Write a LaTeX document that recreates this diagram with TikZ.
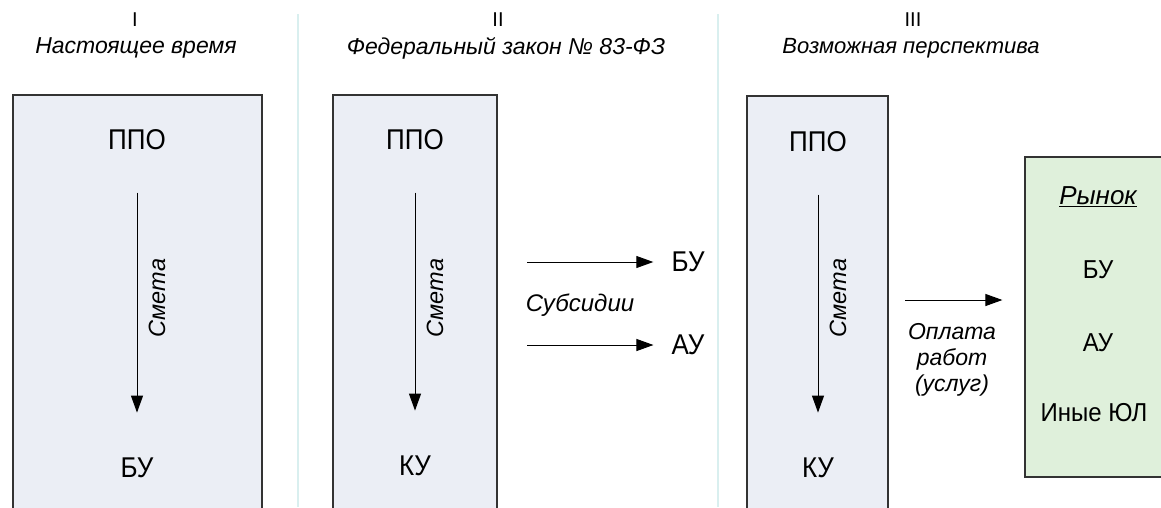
\documentclass[tikz,border=0pt]{standalone}
\usepackage{fontspec}
\setmainfont{Liberation Sans}
\usepackage{tikz}
\usetikzlibrary{positioning,
				arrows.meta,
				calc}
\definecolor{boxfill}{HTML}{EBEEF5}
\definecolor{marketfill}{HTML}{DFF0DB}
\definecolor{sepline}{HTML}{D9EFEF}
\definecolor{edge}{HTML}{333333}

\tikzset{
	column/.style={draw=edge, line width=1.2pt, fill=boxfill},
	big/.style={font=\fontsize{26}{30}\selectfont, inner sep=2pt, yscale=1.1},
	heading/.style={font=\itshape\fontsize{23}{26}\selectfont},
	numeral/.style={font=\fontsize{20}{24}\selectfont},
	flow/.style={line width=1pt, -{Triangle[length=17pt,width=12pt]}},
	smeta/.style={rotate=90, font=\itshape\fontsize{23.5}{27}\selectfont},
	down/.style={flow, shorten <=40pt, shorten >=43pt},
	inmarket/.style={font=\fontsize{24}{28}\selectfont, yscale=1.08}
}

\begin{document}
\begin{tikzpicture}[x=1pt,y=-1pt]
	\useasboundingbox (0,0) rectangle (1161,507);
	\clip (0,0) rectangle (1161,507);
	% separators between the periods
	\draw[sepline, line width=1.5pt] (298,14) -- (298,507);
	\draw[sepline, line width=1.5pt] (718,14) -- (718,507);

	% headings
	\node[numeral] (numA) at (135,20) {I};
	\node[heading] (headA) at (136,48) {Настоящее время};
	\node[numeral] (numB) at (498,20) {II};
	\node[heading] (headB) at (506,48) {Федеральный закон № 83-ФЗ};
	\node[numeral] (numC) at (913,20) {III};
	\node[heading, font=\itshape\fontsize{22}{26}\selectfont] (headC) at (911,48) {Возможная перспектива};

	% columns
	\draw[column] (13,95) rectangle (262,520);
	\draw[column] (333,95) rectangle (497,520);
	\draw[column] (747,96) rectangle (888,520);

	% I
	\node[big] (ppoA) at (137,140) {ППО};
	\node[big] (buA) at (137,468) {БУ};
	\draw[down] (ppoA) -- (buA);
	\node[smeta] (smetaA) at (157,298) {Смета};

	% II
	\node[big] (ppoB) at (415,140) {ППО};
	\node[big] (kuB) at (415,466) {КУ};
	\draw[down] (ppoB) -- (kuB);
	\node[smeta] (smetaB) at (435,298) {Смета};

	\node[big] (buB) at (688,262) {БУ};
	\node[big] (auB) at (688,345) {АУ};
	\coordinate (subA) at (527,262);
	\coordinate (subB) at (527,345);
	\draw[flow, shorten >=16pt] (subA) -- (buB);
	\draw[flow, shorten >=16pt] (subB) -- (auB);
	\node[font=\itshape\fontsize{24}{28}\selectfont] (subsidy) at (580,305) {Субсидии};

	% III
	\node[big] (ppoC) at (818,142) {ППО};
	\node[big] (kuC) at (818,468) {КУ};
	\draw[down] (ppoC) -- (kuC);
	\node[smeta] (smetaC) at (838,298) {Смета};

	\node[draw=edge, fill=marketfill, line width=1.2pt, minimum width=150pt,
		minimum height=320pt, inner sep=0] (market) at (1100,317) {};
	\node[font=\itshape\fontsize{26}{30}\selectfont] (rynok) at (1098,197) {\underline{Рынок}};
	\node[inmarket] (buC) at (1098,270) {БУ};
	\node[inmarket] (auC) at (1098,343) {АУ};
	\node[inmarket] (otherC) at (1094,413) {Иные ЮЛ};

	\coordinate (pay) at (905,300);
	\draw[flow, shorten >=22pt] (pay) -- (pay -| market.west);
	\node[align=center, font=\itshape\fontsize{23}{26}\selectfont] (payment) at (952,360)
		{Оплата\\работ\\(услуг)};
\end{tikzpicture}
\end{document}
